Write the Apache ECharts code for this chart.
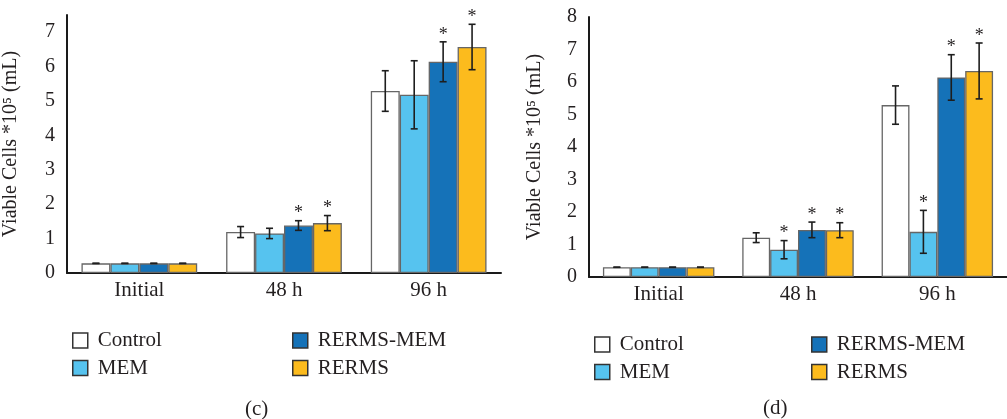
<!DOCTYPE html>
<html>
<head>
<meta charset="utf-8">
<script src="https://cdn.jsdelivr.net/npm/echarts@6/dist/echarts.min.js"></script>
<style>html,body{margin:0;padding:0;background:#fff;}#c{width:1007px;height:419px;}</style>
</head>
<body>
<div id="c"></div>
<script>
const categories = ['Initial', '48 h', '96 h'];
const seriesNames = ['Control', 'MEM', 'RERMS-MEM', 'RERMS'];
const colors = ['#ffffff', '#56c3ef', '#1572b8', '#fcbb1d'];

// Panel (c)
const cControl = [0.28, 1.19, 5.29];
const cMEM = [0.28, 1.15, 5.18];
const cRERMSMEM = [0.28, 1.38, 6.14];
const cRERMS = [0.28, 1.45, 6.57];
const cErrControl = [0, 0.16, 0.59];
const cErrMEM = [0, 0.15, 0.99];
const cErrRERMSMEM = [0, 0.14, 0.58];
const cErrRERMS = [0, 0.22, 0.66];
const cSigControl = [0, 0, 0];
const cSigMEM = [0, 0, 0];
const cSigRERMSMEM = [0, 1, 1];
const cSigRERMS = [0, 1, 1];

// Panel (d)
const dControl = [0.3, 1.21, 5.29];
const dMEM = [0.3, 0.84, 1.39];
const dRERMSMEM = [0.3, 1.45, 6.14];
const dRERMS = [0.3, 1.44, 6.34];
const dErrControl = [0, 0.15, 0.59];
const dErrMEM = [0, 0.28, 0.66];
const dErrRERMSMEM = [0, 0.24, 0.7];
const dErrRERMS = [0, 0.23, 0.86];
const dSigControl = [0, 0, 0];
const dSigMEM = [0, 1, 1];
const dSigRERMSMEM = [0, 1, 1];
const dSigRERMS = [0, 1, 1];

const yTicksC = [0, 1, 2, 3, 4, 5, 6, 7];
const yTicksD = [0, 1, 2, 3, 4, 5, 6, 7, 8];

const FONT = '"Liberation Serif", "DejaVu Serif", serif';
const TXT = '#231f20';

const panels = [
  { vals: [cControl, cMEM, cRERMSMEM, cRERMS], errs: [cErrControl, cErrMEM, cErrRERMSMEM, cErrRERMS], sigs: [cSigControl, cSigMEM, cSigRERMSMEM, cSigRERMS] },
  { vals: [dControl, dMEM, dRERMSMEM, dRERMS], errs: [dErrControl, dErrMEM, dErrRERMSMEM, dErrRERMS], sigs: [dSigControl, dSigMEM, dSigRERMSMEM, dSigRERMS] }
];

const chart = echarts.init(document.getElementById('c'), null, { renderer: 'canvas' });

function xAxisFor(gi) {
  return {
    type: 'category', gridIndex: gi, data: categories,
    axisLine: { lineStyle: { color: '#1a1a1a', width: 2 } },
    axisTick: { show: false },
    axisLabel: { color: TXT, fontFamily: FONT, fontSize: 21, margin: 7 }
  };
}
function yAxisFor(gi, ticks) {
  return {
    type: 'value', gridIndex: gi,
    min: ticks[0], max: gi === 0 ? 7.5 : ticks[ticks.length - 1], interval: 1,
    splitLine: { show: false },
    axisLine: { show: true, lineStyle: { color: '#1a1a1a', width: 2 } },
    axisTick: { show: false },
    axisLabel: {
      color: TXT, fontFamily: FONT, fontSize: 20, margin: 12,
      formatter: v => (ticks.indexOf(v) >= 0 ? String(v) : '')
    },
    name: 'Viable Cells *10\u2075 (mL)',
    nameLocation: 'middle', nameGap: gi === 0 ? 46 : 44, nameRotate: 90,
    nameTextStyle: { color: TXT, fontFamily: FONT, fontSize: 20 }
  };
}

const series = [];
panels.forEach((p, gi) => {
  seriesNames.forEach((n, k) => {
    series.push({
      type: 'bar', name: n, xAxisIndex: gi, yAxisIndex: gi,
      data: p.vals[k], barWidth: '20%', barGap: '0%',
      itemStyle: { color: colors[k], borderColor: '#666666', borderWidth: 1.3 }
    });
  });
  const errData = [];
  seriesNames.forEach((n, k) => {
    categories.forEach((c, ci) => {
      errData.push([ci, p.vals[k][ci], p.errs[k][ci], k, p.sigs[k][ci]]);
    });
  });
  series.push({
    type: 'custom', xAxisIndex: gi, yAxisIndex: gi, z: 10, silent: true,
    data: errData,
    renderItem: function (params, api) {
      const ci = api.value(0), v = api.value(1), e = api.value(2), k = api.value(3), s = api.value(4);
      const band = api.size([1, 0])[0];
      const bw = band * 0.2;
      const base = api.coord([ci, v]);
      const x = base[0] + (k - 1.5) * bw;
      const yt = api.coord([ci, v + e])[1];
      const yb = api.coord([ci, v - e])[1];
      const cap = 3.5;
      const st = { stroke: '#1e1e1e', lineWidth: 1.6 };
      const children = [
        { type: 'line', shape: { x1: x, y1: yt, x2: x, y2: yb }, style: st },
        { type: 'line', shape: { x1: x - cap, y1: yt, x2: x + cap, y2: yt }, style: st },
        { type: 'line', shape: { x1: x - cap, y1: yb, x2: x + cap, y2: yb }, style: st }
      ];
      if (s) {
        children.push({ type: 'text', style: { text: '*', x: x, y: yt + 2, textAlign: 'center', textVerticalAlign: 'bottom', fill: TXT, font: '18px ' + FONT } });
      }
      return { type: 'group', children: children };
    }
  });
});

function legendCol(left, top, data, gap) {
  return {
    left: left, top: top, orient: 'vertical', data: data, itemGap: gap,
    itemWidth: 15, itemHeight: 15, icon: 'rect', selectedMode: false,
    itemStyle: { borderColor: '#333', borderWidth: 1.5 },
    textStyle: { color: TXT, fontFamily: FONT, fontSize: 21, lineHeight: 20, padding: [0, 0, 0, 5] }
  };
}

chart.setOption({
  animation: false,
  backgroundColor: '#ffffff',
  grid: [
    { left: 67, top: 15, width: 434, height: 258 },
    { left: 589, top: 17, width: 425, height: 260 }
  ],
  xAxis: [xAxisFor(0), xAxisFor(1)],
  yAxis: [yAxisFor(0, yTicksC), yAxisFor(1, yTicksD)],
  legend: [
    legendCol(67, 325, ['Control', 'MEM'], 6.5),
    legendCol(287, 325, ['RERMS-MEM', 'RERMS'], 6.5),
    legendCol(589, 329, ['Control', 'MEM'], 6.5),
    legendCol(806, 329, ['RERMS-MEM', 'RERMS'], 6.5)
  ],
  graphic: [
    { type: 'text', left: 245, top: 399, style: { text: '(c)', fill: TXT, font: '21px ' + FONT } },
    { type: 'text', left: 763, top: 398, style: { text: '(d)', fill: TXT, font: '21px ' + FONT } }
  ],
  series: series
});
</script>
</body>
</html>
